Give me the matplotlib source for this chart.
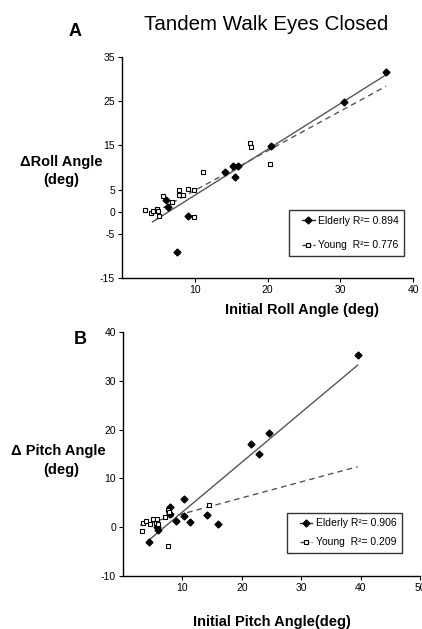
import numpy as np
import matplotlib
matplotlib.use("Agg")
import matplotlib.pyplot as plt
from matplotlib.lines import Line2D
from matplotlib.legend_handler import HandlerLine2D

plt.rcParams['font.family'] = ['Liberation Sans', 'DejaVu Sans']
plt.rcParams['axes.unicode_minus'] = False

# panel A - roll angle
roll_eld_x = [36.3, 30.5, 20.5, 15.9, 15.2, 14.2, 15.5, 9.1, 7.5, 6.1, 6.3]
roll_eld_y = [31.6, 24.8, 14.9, 10.4, 10.4, 8.9, 7.8, -0.9, -9.1, 2.6, 1.0]
roll_yng_x = [3.1, 4.0, 4.3, 4.8, 4.9, 5.1, 5.6, 6.9, 7.9, 7.9, 8.4, 9.1, 9.9, 9.9,
              11.2, 17.6, 17.8, 20.4]
roll_yng_y = [0.4, -0.2, 0.2, 0.6, 0.2, -0.9, 3.5, 2.3, 4.8, 3.8, 3.8, 5.1, 4.8, -1.3,
              8.9, 15.5, 14.6, 10.8]
roll_r2 = ["0.894", "0.776"]
# trendlines: (slope, intercept, x start, x end)
roll_fit = [(1.037, -6.66, 4.2, 36.3), (0.897, -4.17, 4.5, 36.3)]

# panel B - pitch angle
pitch_eld_x = [39.5, 24.6, 21.5, 22.9, 10.2, 10.2, 11.2, 14.1, 16.0, 9.0, 4.4, 7.9, 7.9,
               5.7, 5.9]
pitch_eld_y = [35.3, 19.3, 17.0, 15.0, 5.7, 2.3, 1.1, 2.6, 0.7, 1.2, -3.0, 4.2, 2.8,
               0.1, -0.5]
pitch_yng_x = [3.2, 3.4, 3.8, 4.5, 5.1, 5.5, 5.8, 5.9, 7.0, 7.5, 7.7, 7.6, 14.5]
pitch_yng_y = [-0.8, 0.9, 1.2, 0.75, 1.6, 0.9, 1.6, 0.75, 2.0, 3.6, 3.1, -3.8, 4.5]
pitch_r2 = ["0.906", "0.209"]
pitch_fit = [(1.02, -7.09, 4.4, 39.5), (0.328, -0.55, 2.9, 39.5)]

W, H = 422, 629
fig = plt.figure(figsize=(W / 100, H / 100), dpi=100)


class MarkerFirst(HandlerLine2D):
    # Excel style key: marker at the left end, line running to the right
    def get_xdata(self, legend, xdescent, ydescent, width, height, fontsize):
        xdata = np.array([-xdescent + 5, -xdescent + width])
        return xdata, np.array([-xdescent + 2])


def panel(rect, ex, ey, yx, yy, r2, fits, xlim, ylim, xticks, yticks, leg_anchor, lspace):
    ax = fig.add_axes(rect)
    ax.set_xlim(*xlim)
    ax.set_ylim(*ylim)
    for s in ['top', 'right']:
        ax.spines[s].set_visible(False)
    for s in ['left', 'bottom']:
        ax.spines[s].set_linewidth(1.0)
    ax.set_xticks(xticks)
    ax.set_yticks(yticks)
    ax.tick_params(direction='out', length=3, width=0.8, labelsize=7.5, pad=2)

    styles = ['-', (0, (4, 3))]
    for (m, b, x0, x1), ls in zip(fits, styles):
        xs = np.array([x0, x1])
        ax.plot(xs, m * xs + b, color='#555555', lw=1.0, ls=ls, zorder=2)

    ax.plot(ex, ey, ls='none', marker='D', ms=3.5, color='black', zorder=3)
    ax.plot(yx, yy, ls='none', marker='s', ms=3.5, mfc='white', mec='black',
            mew=0.8, zorder=3)

    h1 = Line2D([], [], color='#333333', lw=1.0, marker='D', ms=3.5, mfc='black',
                mec='black')
    h2 = Line2D([], [], color='#333333', lw=1.0, ls=(0, (2.5, 1.5)), marker='s', ms=3.5,
                mfc='white', mec='black', mew=0.8)
    leg = ax.legend([h1, h2], ["Elderly R\u00b2= " + r2[0], "Young  R\u00b2= " + r2[1]],
                    loc='lower left', bbox_to_anchor=leg_anchor, fontsize=7.5,
                    frameon=True, fancybox=False, handlelength=1.9,
                    handletextpad=0.3, borderpad=0.55, labelspacing=lspace,
                    borderaxespad=0, handler_map={Line2D: MarkerFirst()})
    leg.get_frame().set_edgecolor('black')
    leg.get_frame().set_linewidth(1.0)
    return ax


axA = panel([122 / W, 1 - 278 / H, 291 / W, 221 / H],
            roll_eld_x, roll_eld_y, roll_yng_x, roll_yng_y, roll_r2, roll_fit,
            (0, 40), (-15, 35), [10, 20, 30, 40], [-15, -5, 0, 5, 15, 25, 35],
            (0.574, 0.10), 1.4)
axB = panel([123 / W, 1 - 576 / H, 297 / W, 244 / H],
            pitch_eld_x, pitch_eld_y, pitch_yng_x, pitch_yng_y, pitch_r2, pitch_fit,
            (0, 50), (-10, 40), [10, 20, 30, 40, 50], [-10, 0, 10, 20, 30, 40],
            (0.552, 0.094), 0.85)

def fig_text(x, y, s, **kw):
    fig.text(x / W, 1 - y / H, s, **kw)

fig_text(266, 25, "Tandem Walk Eyes Closed", ha='center', va='center', fontsize=14.8)
fig_text(75, 32, "A", ha='center', va='center', fontsize=13, fontweight='heavy')
fig_text(80, 340, "B", ha='center', va='center', fontsize=13, fontweight='heavy')

lab = dict(fontsize=10.5, fontweight='bold', va='center')
fig_text(103, 162, "\u0394Roll Angle", ha='right', **lab)
fig_text(79, 180, "(deg)", ha='right', **lab)
fig_text(106, 451, "\u0394 Pitch Angle", ha='right', **lab)
fig_text(79, 470, "(deg)", ha='right', **lab)
fig_text(302, 310, "Initial Roll Angle (deg)", ha='center', **lab)
fig_text(272, 622, "Initial Pitch Angle(deg)", ha='center', **lab)

fig.savefig("out.png", dpi=100)
